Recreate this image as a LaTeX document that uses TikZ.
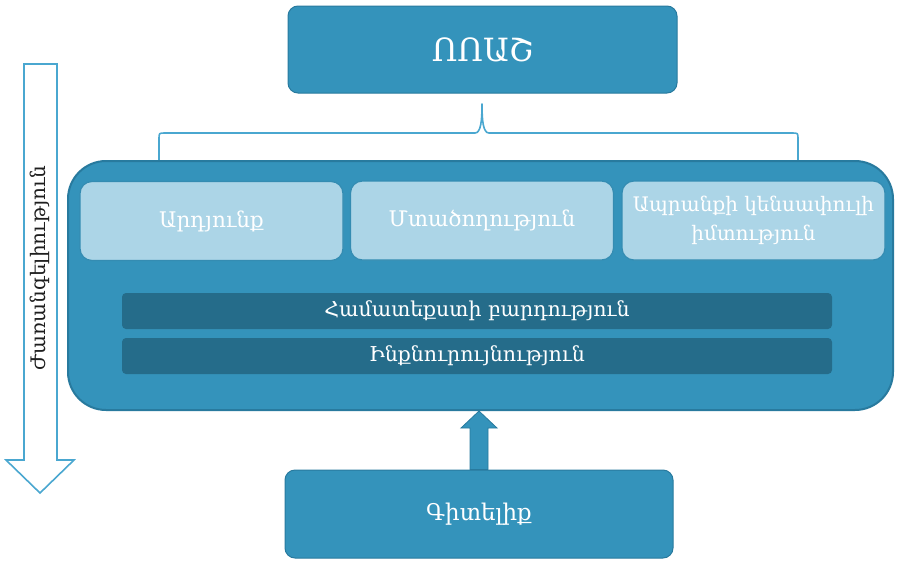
\documentclass[tikz,border=0pt]{standalone}
\usepackage{fontspec}
\setmainfont{DejaVu Serif}
\usetikzlibrary{calc}
\definecolor{mainblue}{RGB}{52,147,187}
\definecolor{edgeblue}{RGB}{40,122,158}
\definecolor{lightbox}{RGB}{172,213,231}
\definecolor{lightedge}{RGB}{52,140,178}
\definecolor{darkbar}{RGB}{37,108,138}
\definecolor{outlineblue}{RGB}{74,167,208}
\definecolor{labelgray}{RGB}{30,30,30}
\tikzset{
  bigbox/.style={draw=edgeblue, line width=1pt, fill=mainblue, rounded corners=10pt, text=white, align=center, inner sep=0pt},
  container/.style={draw=edgeblue, line width=2pt, fill=mainblue, rounded corners=38pt, inner sep=0pt},
  lightnode/.style={draw=lightedge, line width=1.2pt, fill=lightbox, rounded corners=12pt, text=white, align=center, inner sep=0pt, minimum width=263pt, minimum height=79pt, font=\fontsize{21.5}{26}\selectfont},
  barnode/.style={fill=darkbar, rounded corners=4pt, text=white, inner sep=0pt, minimum width=710pt, minimum height=36pt, font=\fontsize{20.5}{24}\selectfont},
  outline/.style={draw=outlineblue, line width=1.6pt},
}
\begin{document}
\begin{tikzpicture}[x=1pt,y=-1pt]
\useasboundingbox (0,0) rectangle (897,560);
% top box
\node[bigbox, minimum width=389pt, minimum height=87pt, font=\fontsize{32}{36}\selectfont] (top) at (482.5,49.5) {ՈՈԱՇ};
% brace
\coordinate (bl) at (159,160);
\coordinate (br) at (798,160);
\coordinate (tip) at (482,104);
\draw[outline, line join=round] (bl) -- (159,139) .. controls (159,133) .. (165,133) -- (475,133) .. controls (481,133) and (482,120) .. (tip) .. controls (482,120) and (483,133) .. (489,133) -- (792,133) .. controls (798,133) .. (798,139) -- (br);
% container
\node[container, minimum width=825pt, minimum height=249pt] (cont) at (480.5,285.5) {};
\node[lightnode] (b1) at (211.5,221) {Արդյունք};
\node[lightnode] (b2) at (482,220.5) {Մտածողություն};
\node[lightnode, font=\fontsize{20}{29}\selectfont] (b3) at (753.5,220.5) {Ապրանքի կենսափուլի\\իմտություն};
\node[barnode] (bar1) at (477,311) {Համատեքստի բարդություն};
\node[barnode] (bar2) at (477,356) {Ինքնուրույնություն};
% bottom box
\node[bigbox, minimum width=388pt, minimum height=88pt, font=\fontsize{23}{27}\selectfont] (bot) at (479,514) {Գիտելիք};
% up arrow
\coordinate (ab) at (bot.north);
\coordinate (at) at (cont.south -| bot.north);
\fill[mainblue, draw=edgeblue, line width=0.8pt] ($(ab)+(-9,0)$) -- ($(at)+(-9,17)$) -- ($(at)+(-18,17)$) -- (at) -- ($(at)+(18,17)$) -- ($(at)+(9,17)$) -- ($(ab)+(9,0)$) -- cycle;
% left arrow
\draw[outline, fill=white, line join=miter] (24,64) -- (57,64) -- (57,460) -- (74,460) -- (40,493) -- (6,460) -- (24,460) -- cycle;
\node[rotate=90, text=labelgray, font=\fontsize{20}{24}\selectfont, inner sep=0pt] (lbl) at (40,268) {Ժառանգելիություն};
\end{tikzpicture}
\end{document}
